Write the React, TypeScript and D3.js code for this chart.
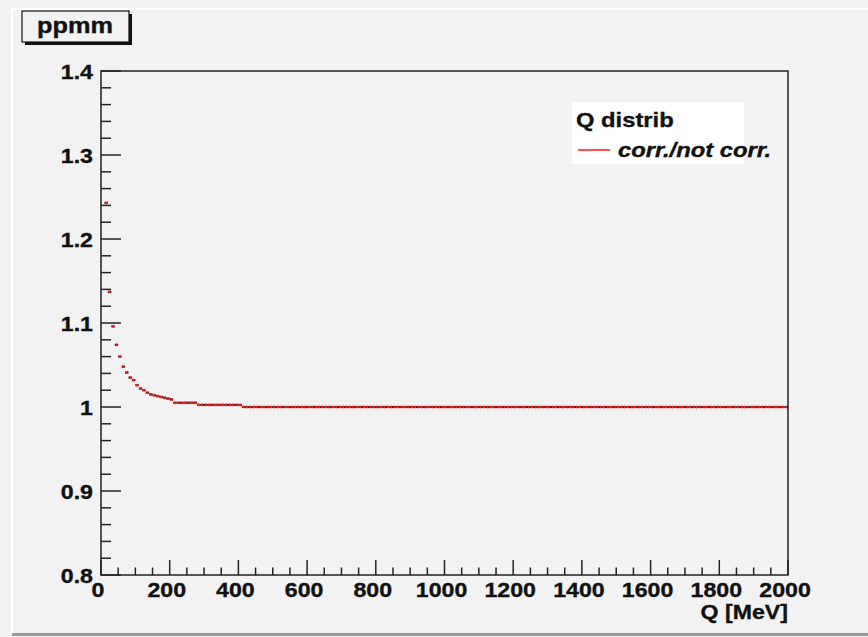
import React from "react";
import * as d3 from "d3";

// Ratio histogram: corrected / not corrected, 10 MeV bins over Q in [0, 2000] MeV
const BIN_WIDTH = 10;
const Q_MIN = 0;
const Q_MAX = 2000;
// individually resolved bins at low Q (starting at the 10-20 MeV bin)
const lowQStart = 10;
const lowQValues = [
  1.243, 1.137, 1.096, 1.074, 1.060, 1.048, 1.041, 1.035, 1.032, 1.026,
  1.022, 1.020, 1.017, 1.015, 1.014, 1.013, 1.012, 1.011, 1.010, 1.009,
];
// flat stretches at higher Q
const plateauFrom = [210, 280, 410];
const plateauTo = [280, 410, 2000];
const plateauValue = [1.005, 1.0025, 1.0];

const xTicks = [0, 200, 400, 600, 800, 1000, 1200, 1400, 1600, 1800, 2000];
const yTicks = [0.8, 0.9, 1.0, 1.1, 1.2, 1.3, 1.4];
const yTickLabels = ["0.8", "0.9", "1", "1.1", "1.2", "1.3", "1.4"];

const TITLE = "ppmm";
const LEGEND_HEADER = "Q distrib";
const LEGEND_ENTRY = "corr./not corr.";
const X_TITLE = "Q [MeV]";

const W = 868;
const H = 637;
const FONT = "'Liberation Sans', Arial, Helvetica, sans-serif";
const BG = "#f2f2f2";
const INK = "#111";

type Bin = { lo: number; hi: number; v: number };

function buildBins(): Bin[] {
  const bins: Bin[] = [];
  lowQValues.forEach((v, i) => {
    const lo = lowQStart + i * BIN_WIDTH;
    bins.push({ lo, hi: lo + BIN_WIDTH, v });
  });
  plateauFrom.forEach((from, k) => {
    for (let lo = from; lo < plateauTo[k]; lo += BIN_WIDTH) {
      bins.push({ lo, hi: lo + BIN_WIDTH, v: plateauValue[k] });
    }
  });
  return bins;
}

// Bold label, widened horizontally about its anchor point
function Label(props: {
  x: number;
  y: number;
  size: number;
  anchor?: "start" | "middle" | "end";
  italic?: boolean;
  sx?: number;
  children: React.ReactNode;
}) {
  const { x, y, size, anchor = "start", italic = false, sx = 1.13, children } = props;
  return (
    <text
      transform={`translate(${x},${y}) scale(${sx},1)`}
      textAnchor={anchor}
      fontWeight="bold"
      fontStyle={italic ? "italic" : "normal"}
      fontSize={size}
      fill={INK}
      stroke={INK}
      strokeWidth={0.35}
    >
      {children}
    </text>
  );
}

export default function App() {
  const frame = { left: 101, right: 788, top: 71, bottom: 575 };
  const x = d3.scaleLinear().domain([Q_MIN, Q_MAX]).range([frame.left, frame.right]);
  const y = d3.scaleLinear().domain([0.8, 1.4]).range([frame.bottom, frame.top]);
  const bins = buildBins();

  const xMinor = d3.range(Q_MIN, Q_MAX + 1, 50);
  const yMinor = d3.range(0, 31).map((i) => 0.8 + i * 0.02);

  const axisColor = "#222";

  return (
    <svg
      width={W}
      height={H}
      style={{ position: "absolute", left: 0, top: 0, display: "block" }}
      fontFamily={FONT}
    >
      <rect x={0} y={0} width={W} height={H} fill={BG} />
      {/* pad bevel */}
      <line x1={12} y1={9} x2={W} y2={9} stroke="#ffffff" strokeWidth={2} />
      <line x1={12} y1={9} x2={12} y2={634} stroke="#ffffff" strokeWidth={2} />
      <line x1={12} y1={634.5} x2={W} y2={634.5} stroke="#9a9a9a" strokeWidth={3} />

      {/* title box with shadow */}
      <rect x={25} y={14} width={107} height={31} fill="#111" />
      <rect x={22} y={11} width={107} height={31} fill={BG} stroke="#111" strokeWidth={1.2} />
      <Label x={75} y={33} size={22} anchor="middle" sx={1.15}>
        {TITLE}
      </Label>

      {/* histogram markers */}
      <g>
        {bins.map((b, i) => {
          const x0 = x(b.lo);
          const x1 = x(b.hi);
          const cy = y(b.v);
          const cx = (x0 + x1) / 2;
          return (
            <g key={i}>
              <line x1={x0} x2={x1} y1={cy} y2={cy} stroke="#111" strokeWidth={2} />
              <rect x={cx - 1.1} y={cy - 1.3} width={2.2} height={2.6} fill="#ff1a1a" />
            </g>
          );
        })}
      </g>

      {/* frame */}
      <rect
        x={frame.left}
        y={frame.top}
        width={frame.right - frame.left}
        height={frame.bottom - frame.top}
        fill="none"
        stroke={axisColor}
        strokeWidth={1.5}
      />

      {/* x axis ticks */}
      {xMinor.map((q) => {
        const major = q % 200 === 0;
        return (
          <line
            key={"xt" + q}
            x1={x(q)}
            x2={x(q)}
            y1={frame.bottom}
            y2={frame.bottom - (major ? 15 : 7.5)}
            stroke={axisColor}
            strokeWidth={1.5}
          />
        );
      })}
      {xTicks.map((q) => (
        <Label key={"xl" + q} x={x(q) - 3} y={597} size={20.5} anchor="middle">
          {String(q)}
        </Label>
      ))}
      <Label x={frame.right} y={619} size={20.5} anchor="end">
        {X_TITLE}
      </Label>

      {/* y axis ticks */}
      {yMinor.map((v, i) => {
        const major = i % 5 === 0;
        return (
          <line
            key={"yt" + i}
            x1={frame.left}
            x2={frame.left + (major ? 20 : 10)}
            y1={y(v)}
            y2={y(v)}
            stroke={axisColor}
            strokeWidth={1.5}
          />
        );
      })}
      {yTicks.map((v, i) => (
        <Label key={"yl" + i} x={93} y={y(v) + 8} size={20.5} anchor="end">
          {yTickLabels[i]}
        </Label>
      ))}

      {/* legend */}
      <rect x={572} y={102} width={172} height={62} fill="#ffffff" />
      <Label x={576} y={127} size={20.5} sx={1.16}>
        {LEGEND_HEADER}
      </Label>
      <line x1={578} x2={610} y1={150} y2={150} stroke="#ff1a1a" strokeWidth={1.5} />
      <Label x={618} y={157} size={20.5} italic sx={1.16}>
        {LEGEND_ENTRY}
      </Label>
    </svg>
  );
}
